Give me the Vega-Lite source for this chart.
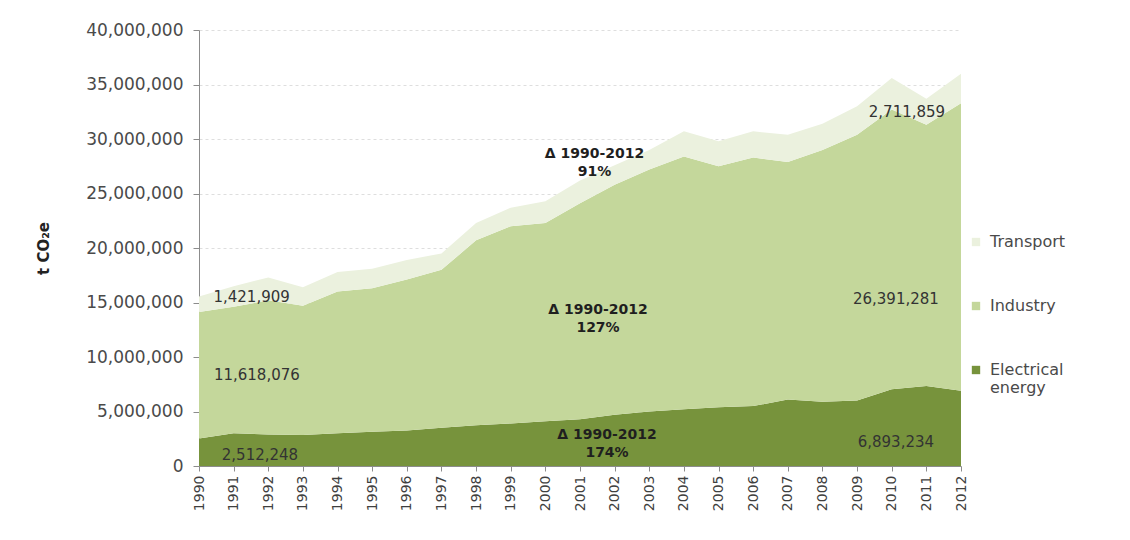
{
  "$schema": "https://vega.github.io/schema/vega-lite/v6.json",
  "width": 762,
  "height": 436,
  "autosize": {"type": "none"},
  "padding": {"left": 199, "top": 30, "right": 169, "bottom": 74},
  "background": "white",
  "config": {
    "view": {"stroke": null},
    "font": "DejaVu Sans",
    "axis": {"labelFont": "DejaVu Sans", "titleFont": "DejaVu Sans", "labelOverlap": false, "labelSeparation": 0},
    "legend": {"labelFont": "DejaVu Sans"}
  },
  "datasets": {
    "emissions": [
      {"year": 1990, "sector": "Electrical energy", "value": 2512248},
      {"year": 1991, "sector": "Electrical energy", "value": 3000000},
      {"year": 1992, "sector": "Electrical energy", "value": 2900000},
      {"year": 1993, "sector": "Electrical energy", "value": 2850000},
      {"year": 1994, "sector": "Electrical energy", "value": 3000000},
      {"year": 1995, "sector": "Electrical energy", "value": 3150000},
      {"year": 1996, "sector": "Electrical energy", "value": 3250000},
      {"year": 1997, "sector": "Electrical energy", "value": 3500000},
      {"year": 1998, "sector": "Electrical energy", "value": 3750000},
      {"year": 1999, "sector": "Electrical energy", "value": 3900000},
      {"year": 2000, "sector": "Electrical energy", "value": 4100000},
      {"year": 2001, "sector": "Electrical energy", "value": 4300000},
      {"year": 2002, "sector": "Electrical energy", "value": 4700000},
      {"year": 2003, "sector": "Electrical energy", "value": 5000000},
      {"year": 2004, "sector": "Electrical energy", "value": 5200000},
      {"year": 2005, "sector": "Electrical energy", "value": 5400000},
      {"year": 2006, "sector": "Electrical energy", "value": 5500000},
      {"year": 2007, "sector": "Electrical energy", "value": 6100000},
      {"year": 2008, "sector": "Electrical energy", "value": 5900000},
      {"year": 2009, "sector": "Electrical energy", "value": 6000000},
      {"year": 2010, "sector": "Electrical energy", "value": 7050000},
      {"year": 2011, "sector": "Electrical energy", "value": 7350000},
      {"year": 2012, "sector": "Electrical energy", "value": 6893234},
      {"year": 1990, "sector": "Industry", "value": 11618076},
      {"year": 1991, "sector": "Industry", "value": 11600000},
      {"year": 1992, "sector": "Industry", "value": 12300000},
      {"year": 1993, "sector": "Industry", "value": 11850000},
      {"year": 1994, "sector": "Industry", "value": 13000000},
      {"year": 1995, "sector": "Industry", "value": 13150000},
      {"year": 1996, "sector": "Industry", "value": 13850000},
      {"year": 1997, "sector": "Industry", "value": 14500000},
      {"year": 1998, "sector": "Industry", "value": 16950000},
      {"year": 1999, "sector": "Industry", "value": 18100000},
      {"year": 2000, "sector": "Industry", "value": 18200000},
      {"year": 2001, "sector": "Industry", "value": 19800000},
      {"year": 2002, "sector": "Industry", "value": 21100000},
      {"year": 2003, "sector": "Industry", "value": 22200000},
      {"year": 2004, "sector": "Industry", "value": 23200000},
      {"year": 2005, "sector": "Industry", "value": 22100000},
      {"year": 2006, "sector": "Industry", "value": 22800000},
      {"year": 2007, "sector": "Industry", "value": 21800000},
      {"year": 2008, "sector": "Industry", "value": 23100000},
      {"year": 2009, "sector": "Industry", "value": 24400000},
      {"year": 2010, "sector": "Industry", "value": 25650000},
      {"year": 2011, "sector": "Industry", "value": 23950000},
      {"year": 2012, "sector": "Industry", "value": 26391281},
      {"year": 1990, "sector": "Transport", "value": 1421909},
      {"year": 1991, "sector": "Transport", "value": 1900000},
      {"year": 1992, "sector": "Transport", "value": 2100000},
      {"year": 1993, "sector": "Transport", "value": 1700000},
      {"year": 1994, "sector": "Transport", "value": 1800000},
      {"year": 1995, "sector": "Transport", "value": 1800000},
      {"year": 1996, "sector": "Transport", "value": 1800000},
      {"year": 1997, "sector": "Transport", "value": 1500000},
      {"year": 1998, "sector": "Transport", "value": 1600000},
      {"year": 1999, "sector": "Transport", "value": 1700000},
      {"year": 2000, "sector": "Transport", "value": 2000000},
      {"year": 2001, "sector": "Transport", "value": 2100000},
      {"year": 2002, "sector": "Transport", "value": 1800000},
      {"year": 2003, "sector": "Transport", "value": 1800000},
      {"year": 2004, "sector": "Transport", "value": 2300000},
      {"year": 2005, "sector": "Transport", "value": 2300000},
      {"year": 2006, "sector": "Transport", "value": 2400000},
      {"year": 2007, "sector": "Transport", "value": 2500000},
      {"year": 2008, "sector": "Transport", "value": 2400000},
      {"year": 2009, "sector": "Transport", "value": 2600000},
      {"year": 2010, "sector": "Transport", "value": 2900000},
      {"year": 2011, "sector": "Transport", "value": 2400000},
      {"year": 2012, "sector": "Transport", "value": 2711859}
    ],
    "valueLabels": [
      {"year": 1991.52, "value": 15530000, "label": "1,421,909"},
      {"year": 1991.67, "value": 8350000, "label": "11,618,076"},
      {"year": 1991.76, "value": 1000000, "label": "2,512,248"},
      {"year": 2010.44, "value": 32500000, "label": "2,711,859"},
      {"year": 2010.12, "value": 15300000, "label": "26,391,281"},
      {"year": 2010.12, "value": 2230000, "label": "6,893,234"}
    ],
    "deltaLabels": [
      {"year": 2001.42, "value": 28600000, "label": ["Δ 1990-2012", "91%"]},
      {"year": 2001.52, "value": 14310000, "label": ["Δ 1990-2012", "127%"]},
      {"year": 2001.78, "value": 2840000, "label": ["Δ 1990-2012", "174%"]}
    ]
  },
  "encoding": {
    "x": {
      "field": "year", "type": "quantitative",
      "scale": {"domain": [1990, 2012], "nice": false, "zero": false},
      "axis": {
        "values": [1990,1991,1992,1993,1994,1995,1996,1997,1998,1999,2000,2001,2002,2003,2004,2005,2006,2007,2008,2009,2010,2011,2012],
        "tickCount": 23,
        "format": "d", "labelAngle": -90, "labelFlush": false, "labelOverlap": false, "labelBound": false,
        "labelFontSize": 14, "labelColor": "#3f3f3f", "labelPadding": 4,
        "tickSize": 5, "tickColor": "#8c8c8c", "domainColor": "#8c8c8c",
        "grid": false, "title": null
      }
    }
  },
  "layer": [
    {
      "data": {"name": "emissions"},
      "transform": [
        {"calculate": "datum.sector === 'Electrical energy' ? 0 : (datum.sector === 'Industry' ? 1 : 2)", "as": "stackOrder"}
      ],
      "mark": {"type": "area", "opacity": 1},
      "encoding": {
        "y": {
          "field": "value", "type": "quantitative", "stack": "zero",
          "scale": {"domain": [0, 40000000], "nice": false},
          "axis": {
            "values": [0, 5000000, 10000000, 15000000, 20000000, 25000000, 30000000, 35000000, 40000000],
            "tickCount": 9,
            "format": ",.0f", "labelFontSize": 17, "labelColor": "#4a4a4a", "labelPadding": 10,
            "tickSize": 6, "tickColor": "#8c8c8c", "domainColor": "#8c8c8c",
            "grid": true, "gridColor": "#dedede", "gridDash": [3, 3], "gridWidth": 1,
            "title": "t CO₂e", "titleFontSize": 15, "titleFontWeight": "bold", "titleColor": "#222222",
            "titlePadding": 34
          }
        },
        "color": {
          "field": "sector", "type": "nominal",
          "scale": {
            "domain": ["Transport", "Industry", "Electrical energy"],
            "range": ["#EBF1DE", "#C4D79B", "#77933C"]
          },
          "legend": {
            "title": null, "orient": "none", "legendX": 769, "legendY": 204,
            "symbolType": "square", "symbolSize": 70, "symbolStrokeWidth": 0,
            "labelFontSize": 16, "labelColor": "#4a4a4a", "rowPadding": 48,
            "labelLimit": 200, "labelOffset": 6,
            "labelExpr": "datum.label === 'Electrical energy' ? ['Electrical', 'energy'] : datum.label"
          }
        },
        "order": {"field": "stackOrder", "type": "quantitative"}
      }
    },
    {
      "data": {"name": "valueLabels"},
      "mark": {"type": "text", "fontSize": 15, "color": "#333333", "align": "center", "baseline": "middle"},
      "encoding": {
        "y": {"field": "value", "type": "quantitative"},
        "text": {"field": "label"}
      }
    },
    {
      "data": {"name": "deltaLabels"},
      "mark": {"type": "text", "fontSize": 14, "fontWeight": "bold", "color": "#1f1f1f", "align": "center", "baseline": "middle", "lineHeight": 18},
      "encoding": {
        "y": {"field": "value", "type": "quantitative"},
        "text": {"field": "label"}
      }
    }
  ]
}
